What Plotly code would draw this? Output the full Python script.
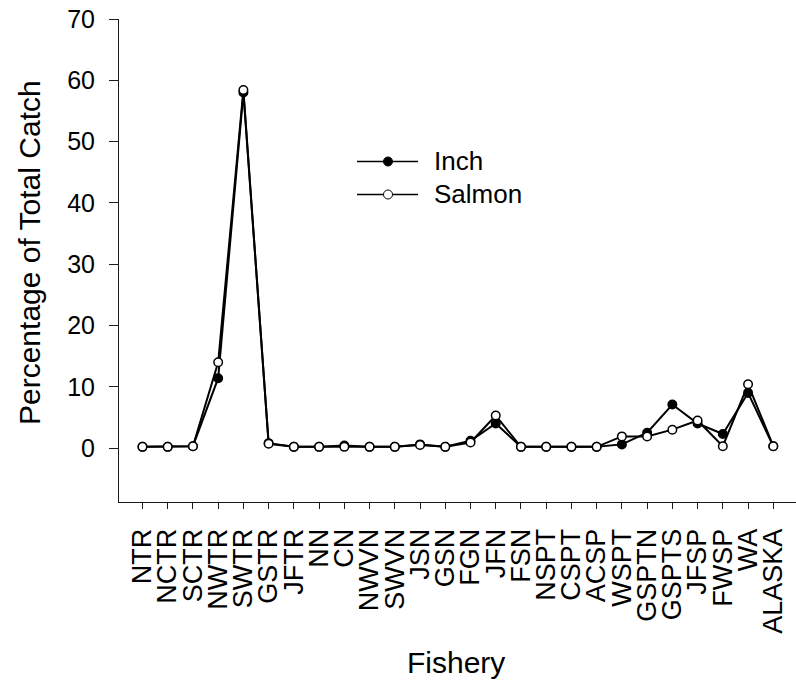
import plotly.graph_objects as go

# Fishery codes along the x axis
fisheries = ["NTR", "NCTR", "SCTR", "NWTR", "SWTR", "GSTR", "JFTR", "NN", "CN",
             "NWVN", "SWVN", "JSN", "GSN", "FGN", "JFN", "FSN", "NSPT", "CSPT",
             "ACSP", "WSPT", "GSPTN", "GSPTS", "JFSP", "FWSP", "WA", "ALASKA"]

# Percentage of total catch per fishery
inch = [0.2, 0.2, 0.3, 11.4, 58.0, 0.8, 0.2, 0.2, 0.4, 0.2, 0.2, 0.6, 0.2, 1.2,
        4.0, 0.2, 0.2, 0.2, 0.2, 0.6, 2.5, 7.1, 4.0, 2.3, 9.0, 0.3]
salmon = [0.2, 0.2, 0.3, 14.0, 58.4, 0.7, 0.2, 0.2, 0.2, 0.2, 0.2, 0.5, 0.2, 0.9,
          5.3, 0.2, 0.2, 0.2, 0.2, 1.9, 1.9, 3.0, 4.5, 0.3, 10.4, 0.3]

y_ticks = [0, 10, 20, 30, 40, 50, 60, 70]

FONT = "Liberation Sans, Arial, sans-serif"
AXIS_COLOR = "#1a1a1a"

fig = go.Figure()
fig.add_trace(go.Scatter(
    x=fisheries, y=inch, name="Inch", mode="lines+markers",
    line=dict(color="black", width=2),
    marker=dict(symbol="circle", size=8.5, color="black",
                line=dict(color="black", width=1.5)),
))
fig.add_trace(go.Scatter(
    x=fisheries, y=salmon, name="Salmon", mode="lines+markers",
    line=dict(color="black", width=2),
    marker=dict(symbol="circle", size=8.5, color="white",
                line=dict(color="black", width=1.5)),
))

L, R, T, B = 119, 0, 19, 181
W, H = 796, 683
pw, ph = W - L - R, H - T - B


def px(x):
    return (x - L) / pw


def py(y):
    return (H - B - y) / ph


# Legend drawn as line + marker + label
shapes = []
annotations = []
for label, ypix, fill in [("Inch", 161.5, "black"), ("Salmon", 194.5, "white")]:
    shapes.append(dict(type="line", xref="paper", yref="paper",
                       x0=px(357), x1=px(418), y0=py(ypix), y1=py(ypix),
                       line=dict(color="black", width=1.5)))
    shapes.append(dict(type="circle", xref="paper", yref="paper",
                       xsizemode="pixel", ysizemode="pixel",
                       xanchor=px(388), yanchor=py(ypix),
                       x0=-4.5, x1=4.5, y0=-4.5, y1=4.5,
                       fillcolor=fill, line=dict(color="black", width=1)))
    annotations.append(dict(text=label, xref="paper", yref="paper",
                            x=px(432), y=py(ypix), xanchor="left", yanchor="middle",
                            showarrow=False, font=dict(size=26, color="black", family=FONT)))

annotations.append(dict(text="Fishery", xref="paper", yref="paper",
                        x=px(456), y=py(662), xanchor="center", yanchor="middle",
                        showarrow=False, font=dict(size=30, color="black", family=FONT)))
annotations.append(dict(text="Percentage of Total Catch", xref="paper", yref="paper",
                        x=px(29), y=py(253), xanchor="center", yanchor="middle",
                        textangle=-90, showarrow=False,
                        font=dict(size=30, color="black", family=FONT)))

fig.update_layout(
    width=W, height=H,
    margin=dict(l=L, r=R, t=T, b=B, pad=0),
    paper_bgcolor="white", plot_bgcolor="white",
    showlegend=False,
    font=dict(family=FONT, color="black"),
    shapes=shapes, annotations=annotations,
)
fig.update_xaxes(
    type="category", range=[-0.93, 25.9], automargin=False,
    tickmode="array", tickvals=fisheries, ticktext=fisheries,
    showgrid=False, zeroline=False,
    showline=True, linecolor=AXIS_COLOR, linewidth=1,
    ticks="outside", ticklen=6, tickcolor=AXIS_COLOR, tickwidth=1,
    tickangle=-90, tickfont=dict(size=27, family=FONT, color="black"),
    ticklabelstandoff=9,
)
fig.update_yaxes(
    range=[-8.8, 70], tickvals=y_ticks, automargin=False,
    showgrid=False, zeroline=False,
    showline=True, linecolor=AXIS_COLOR, linewidth=1,
    ticks="outside", ticklen=9, tickcolor=AXIS_COLOR, tickwidth=1,
    tickfont=dict(size=25, family=FONT, color="black"),
    ticklabelstandoff=9,
)

fig.write_html("out.html")
